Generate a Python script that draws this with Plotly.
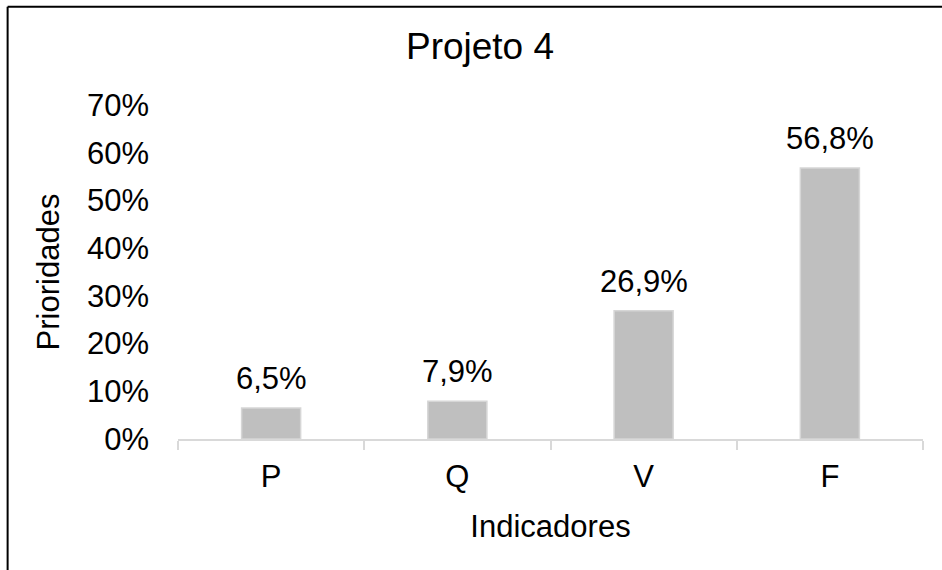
import plotly.graph_objects as go

# Indicator priorities for project 4
categories = ["P", "Q", "V", "F"]
values = [0.065, 0.079, 0.269, 0.568]
y_ticks = [0, 0.1, 0.2, 0.3, 0.4, 0.5, 0.6, 0.7]

FONT = "Liberation Sans, Arial, sans-serif"
labels = [f"{v * 100:.1f}%".replace(".", ",") for v in values]

fig = go.Figure(
    go.Bar(
        x=categories,
        y=values,
        marker=dict(color="#bfbfbf", line=dict(color="#d6d6d6", width=1.5)),
        hoverinfo="skip",
    )
)

for c, v, t in zip(categories, values, labels):
    fig.add_annotation(
        x=c, y=v, text=t, showarrow=False, yanchor="bottom", yshift=10,
        font=dict(family=FONT, size=31, color="#000000"),
    )

# outer chart border: top and left edges
fig.add_shape(type="line", xref="paper", yref="paper",
              x0=-0.2287, x1=1.03, y0=1.294, y1=1.294,
              line=dict(color="#000000", width=2), layer="above")
fig.add_shape(type="line", xref="paper", yref="paper",
              x0=-0.2287, x1=-0.2287, y0=-0.41, y1=1.294,
              line=dict(color="#000000", width=2), layer="above")

fig.update_layout(
    width=942, height=570,
    margin=dict(l=177.5, r=19, t=104.5, b=130.5),
    paper_bgcolor="white", plot_bgcolor="white",
    bargap=0.683,
    showlegend=False,
    font=dict(family=FONT, size=31, color="#000000"),
    title=dict(
        text="Projeto 4", x=480 / 942, xanchor="center", xref="container",
        y=1 - 46.5 / 570, yanchor="middle", yref="container",
        font=dict(family=FONT, size=37, color="#000000"),
    ),
    xaxis=dict(
        showline=True, linecolor="#d9d9d9", linewidth=1.5,
        ticks="outside", tickson="boundaries", ticklen=9, tickcolor="#d9d9d9", tickwidth=1.5,
        showgrid=False, zeroline=False,
        tickfont=dict(family=FONT, size=31, color="#000000"),
        ticklabelstandoff=9,
        title=dict(text="Indicadores", standoff=22,
                   font=dict(family=FONT, size=31, color="#000000")),
    ),
    yaxis=dict(
        range=[0, 0.7], tickvals=y_ticks, tickformat=".0%",
        showline=False, showgrid=False, zeroline=False, ticks="",
        tickfont=dict(family=FONT, size=31, color="#000000"),
        ticklabelstandoff=28,
        title=dict(text="Prioridades", standoff=18,
                   font=dict(family=FONT, size=31, color="#000000")),
    ),
)

fig.write_html("out.html")
